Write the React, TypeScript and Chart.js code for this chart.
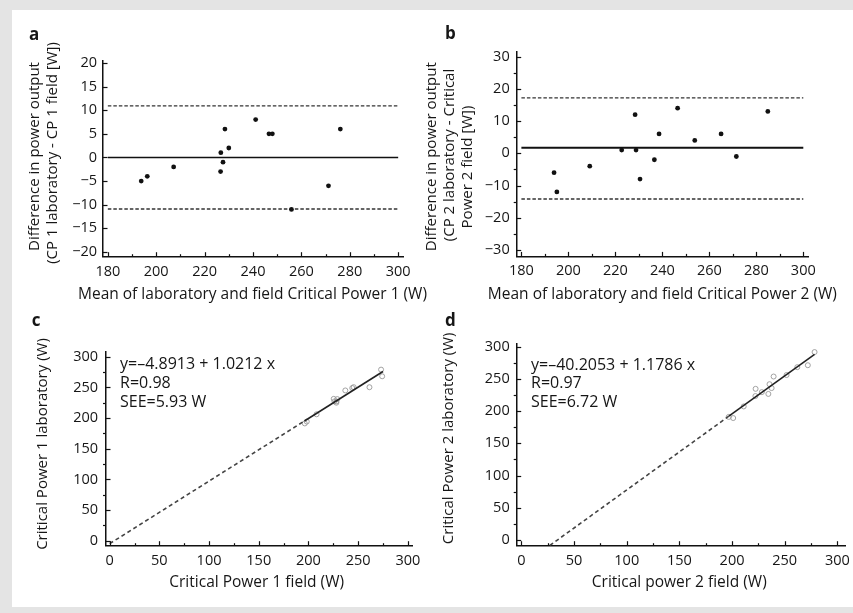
import React, { useEffect, useRef } from 'react';
import { Chart, registerables } from 'chart.js';

Chart.register(...registerables);

const FONT = '"Open Sans", "DejaVu Sans", sans-serif';

// ---------- Panel a: Bland-Altman CP1 ----------
const aMean = [193.8, 196.3, 207.2, 226.7, 227.6, 226.6, 228.4, 230.0, 241.1, 246.6, 248.0, 255.9, 271.2, 276.1];
const aDiff = [-5, -4, -2, 1, -1, -3, 6, 2, 8, 5, 5, -11, -6, 6];
const aBias = 0;
const aUpper = 10.9;
const aLower = -10.9;
const aXTicks = [180, 200, 220, 240, 260, 280, 300];
const aXMinor = [190, 210, 230, 250, 270, 290];
const aYTicks = [-20, -15, -10, -5, 0, 5, 10, 15, 20];
const aXTitle = 'Mean of laboratory and field Critical Power 1 (W)';
const aYTitle = ['Difference in power output', '(CP 1 laboratory - CP 1 field [W])'];

// ---------- Panel b: Bland-Altman CP2 ----------
const bMean = [193.9, 195.1, 209.1, 222.7, 228.4, 228.8, 230.5, 236.6, 238.6, 246.5, 253.8, 265.0, 271.5, 284.9];
const bDiff = [-6, -12, -4, 1, 12, 1, -8, -2, 6, 14, 4, 6, -1, 13];
const bBias = 1.7;
const bUpper = 17.2;
const bLower = -14.2;
const bXTicks = [180, 200, 220, 240, 260, 280, 300];
const bXMinor = [190, 210, 230, 250, 270, 290];
const bYTicks = [-30, -20, -10, 0, 10, 20, 30];
const bYMinor = [-25, -15, -5, 5, 15, 25];
const bXTitle = 'Mean of laboratory and field Critical Power 2 (W)';
const bYTitle = ['Difference in power output', '(CP 2 laboratory - Critical', 'Power 2 field [W])'];

// ---------- Panel c: CP1 field vs laboratory ----------
const cField = [196.3, 198.3, 208.2, 226.2, 228.1, 228.1, 225.4, 229.0, 237.1, 244.1, 245.5, 261.4, 274.2, 273.1];
const cLab = [191.3, 194.3, 206.2, 227.2, 227.1, 225.1, 231.4, 231.0, 245.1, 249.1, 250.5, 250.4, 268.2, 279.1];
const cIntercept = -4.8913;
const cSlope = 1.0212;
const cDashX = [0, 196];
const cSolidX = [196, 275];
const cNotes = ['y=\u20134.8913 + 1.0212 x', 'R=0.98', 'SEE=5.93 W'];
const cXTitle = 'Critical Power 1 field (W)';
const cYTitle = ['Critical Power 1 laboratory (W)'];

// ---------- Panel d: CP2 field vs laboratory ----------
const dField = [196.9, 201.1, 211.1, 222.2, 222.4, 228.3, 234.5, 237.6, 235.6, 239.5, 251.8, 262.0, 272.0, 278.4];
const dLab = [190.9, 189.1, 207.1, 223.2, 234.4, 229.3, 226.5, 235.6, 241.6, 253.5, 255.8, 268.0, 271.0, 291.4];
const dIntercept = -40.2053;
const dSlope = 1.1786;
const dDashX = [0, 197];
const dSolidX = [197, 278.4];
const dNotes = ['y=\u201340.2053 + 1.1786 x', 'R=0.97', 'SEE=6.72 W'];
const dXTitle = 'Critical power 2 field (W)';
const dYTitle = ['Critical Power 2 laboratory (W)'];

const cdTicks = [0, 50, 100, 150, 200, 250, 300];
const cdMinor = [25, 75, 125, 175, 225, 275];

const TXT = '#161616';
const XTITLE_SIZE = 15.5;
const YTITLE_SIZE = 15;

const fmt = (v: any) => {
  const n = Number(v);
  return n < 0 ? '\u2212' + Math.abs(n) : String(n);
};

const decorPlugin = {
  id: 'decor',
  afterDraw(chart: any, _a: any, o: any) {
    const ctx = chart.ctx;
    const xs = chart.scales.x;
    const ys = chart.scales.y;
    const { left, right, top, bottom } = chart.chartArea;
    ctx.save();
    ctx.strokeStyle = '#111';
    ctx.lineWidth = 1.2;
    const seg = (x1: number, y1: number, x2: number, y2: number) => {
      ctx.beginPath();
      ctx.moveTo(x1, y1);
      ctx.lineTo(x2, y2);
      ctx.stroke();
    };
    (o.xMajor || []).forEach((v: number) => {
      const p = Math.round(xs.getPixelForValue(v)) + 0.5;
      seg(p, bottom, p, bottom - 4.5);
    });
    (o.xMinor || []).forEach((v: number) => {
      const p = Math.round(xs.getPixelForValue(v)) + 0.5;
      seg(p, bottom, p, bottom - 2.5);
    });
    (o.yMajor || []).forEach((v: number) => {
      const p = Math.round(ys.getPixelForValue(v)) + 0.5;
      seg(left, p, left + 4.5, p);
    });
    (o.yMinor || []).forEach((v: number) => {
      const p = Math.round(ys.getPixelForValue(v)) + 0.5;
      seg(left, p, left - 3, p);
    });
    ctx.fillStyle = TXT;
    // notes inside the plot
    if (o.notes) {
      ctx.font = `16px ${FONT}`;
      ctx.textBaseline = 'middle';
      ctx.textAlign = 'left';
      o.notes.forEach((t: string, i: number) => {
        ctx.fillText(t, left + o.noteDx, top + o.noteDy + i * o.noteStep);
      });
    }
    // axis titles
    ctx.textBaseline = 'middle';
    ctx.textAlign = 'center';
    ctx.font = `${XTITLE_SIZE}px ${FONT}`;
    ctx.fillText(o.xTitle, (left + right) / 2 + o.xTitleDx, o.xTitleY);
    ctx.font = `${YTITLE_SIZE}px ${FONT}`;
    o.yTitle.forEach((t: string, i: number) => {
      ctx.save();
      ctx.translate(o.yTitleX[i], o.yTitleY[i]);
      ctx.rotate(-Math.PI / 2);
      ctx.fillText(t, 0, 0);
      ctx.restore();
    });
    // panel letter
    ctx.font = `bold 17px ${FONT}`;
    ctx.textBaseline = 'alphabetic';
    ctx.textAlign = 'left';
    ctx.fillText(o.letter, o.letterX, o.letterY);
    ctx.restore();
  },
};

function xScale(min: number, max: number, ticks: number[], height: number) {
  return {
    type: 'linear',
    min,
    max,
    afterBuildTicks: (s: any) => {
      s.ticks = ticks.map((v) => ({ value: v }));
    },
    afterFit: (s: any) => {
      s.height = height;
    },
    grid: { display: false, drawTicks: false },
    border: { display: true, color: '#111', width: 1.5 },
    ticks: { padding: 6, color: TXT, font: { family: FONT, size: 14.5 }, autoSkip: false, maxRotation: 0, callback: fmt },
    title: { display: false },
  };
}

function yScale(min: number, max: number, ticks: number[], width: number, pad: number) {
  return {
    type: 'linear',
    min,
    max,
    afterBuildTicks: (s: any) => {
      s.ticks = ticks.map((v) => ({ value: v }));
    },
    afterFit: (s: any) => {
      s.width = width;
    },
    grid: { display: false, drawTicks: false },
    border: { display: true, color: '#111', width: 1.5 },
    ticks: { padding: pad, color: TXT, font: { family: FONT, size: 14.5 }, autoSkip: false, callback: fmt },
    title: { display: false },
  };
}

const pts = (xs: number[], ys: number[]) => xs.map((x, i) => ({ x, y: ys[i] }));
const hline = (x0: number, x1: number, y: number) => [
  { x: x0, y },
  { x: x1, y },
];
const fitLine = (xs: number[], a: number, b: number) => xs.map((x) => ({ x, y: a + b * x }));

function baDatasets(mean: number[], diff: number[], bias: number, up: number, lo: number, biasWidth: number) {
  return [
    { data: pts(mean, diff), pointRadius: 2.4, pointBackgroundColor: '#111', pointBorderColor: '#111', pointBorderWidth: 0, showLine: false },
    { data: hline(180, 300, bias), showLine: true, pointRadius: 0, borderColor: '#111', borderWidth: biasWidth },
    { data: hline(180, 300, up), showLine: true, pointRadius: 0, borderColor: '#333', borderWidth: 1.4, borderDash: [3.5, 2] },
    { data: hline(180, 300, lo), showLine: true, pointRadius: 0, borderColor: '#333', borderWidth: 1.4, borderDash: [3.5, 2] },
  ];
}

function regDatasets(field: number[], lab: number[], a: number, b: number, dashX: number[], solidX: number[]) {
  return [
    { data: fitLine(dashX, a, b), showLine: true, pointRadius: 0, borderColor: '#444', borderWidth: 1.6, borderDash: [4, 3] },
    { data: fitLine(solidX, a, b), showLine: true, pointRadius: 0, borderColor: '#222', borderWidth: 1.6 },
    { data: pts(field, lab), showLine: false, pointRadius: 2.5, pointBackgroundColor: 'rgba(255,255,255,0)', pointBorderColor: '#999', pointBorderWidth: 0.9 },
  ];
}

type Spec = { left: number; top: number; width: number; height: number; config: any };

const specs: Spec[] = [
  {
    left: 12,
    top: 10,
    width: 428,
    height: 298,
    config: {
      padding: { left: 10, right: 37, top: 51, bottom: 2 },
      datasets: baDatasets(aMean, aDiff, aBias, aUpper, aLower, 1.5),
      x: xScale(178, 302, aXTicks, 49.3),
      y: yScale(-21, 20.4, aYTicks, 81, 6),
      decor: {
        xMajor: aXTicks, xMinor: aXMinor, yMajor: aYTicks, yMinor: [],
        xTitle: aXTitle, xTitleDx: -0.5, xTitleY: 285,
        yTitle: aYTitle, yTitleX: [23, 41], yTitleY: [146.5, 143],
        letter: 'a', letterX: 17, letterY: 30,
      },
    },
  },
  {
    left: 422,
    top: 10,
    width: 440,
    height: 298,
    config: {
      padding: { left: 0, right: 54, top: 41.8, bottom: 2 },
      datasets: baDatasets(bMean, bDiff, bBias, bUpper, bLower, 2),
      x: xScale(178, 302, bXTicks, 49.6),
      y: yScale(-32, 31.5, bYTicks, 94.7, 7),
      decor: {
        xMajor: bXTicks, xMinor: bXMinor, yMajor: bYTicks, yMinor: bYMinor,
        xTitle: bXTitle, xTitleDx: 0, xTitleY: 285,
        yTitle: bYTitle, yTitleX: [9.7, 28, 46], yTitleY: [146.7, 145, 157],
        letter: 'b', letterX: 23, letterY: 29.3,
      },
    },
  },
  {
    left: 12,
    top: 308,
    width: 428,
    height: 299,
    config: {
      padding: { left: 18, right: 27.7, top: 43.9, bottom: 13 },
      datasets: regDatasets(cField, cLab, cIntercept, cSlope, cDashX, cSolidX),
      x: xScale(-3.7, 304.5, cdTicks, 48.3),
      y: yScale(-8.2, 308, cdTicks, 76, 8),
      decor: {
        xMajor: cdTicks, xMinor: cdMinor, yMajor: cdTicks, yMinor: cdMinor,
        notes: cNotes, noteDx: 14, noteDy: 13, noteStep: 19,
        xTitle: cXTitle, xTitleDx: -2.5, xTitleY: 275,
        yTitle: cYTitle, yTitleX: [31], yTitleY: [136],
        letter: 'c', letterX: 19.7, letterY: 18,
      },
    },
  },
  {
    left: 422,
    top: 308,
    width: 440,
    height: 299,
    config: {
      padding: { left: 14, right: 17, top: 35.3, bottom: 13 },
      datasets: regDatasets(dField, dLab, dIntercept, dSlope, dDashX, dSolidX),
      x: xScale(-4.5, 307.3, cdTicks, 48.3),
      y: yScale(-8.8, 305, cdTicks, 80.7, 7),
      decor: {
        xMajor: cdTicks, xMinor: cdMinor, yMajor: cdTicks, yMinor: cdMinor,
        notes: dNotes, noteDx: 14.3, noteDy: 21.7, noteStep: 18.5,
        xTitle: dXTitle, xTitleDx: -1.6, xTitleY: 275,
        yTitle: dYTitle, yTitleX: [27], yTitleY: [130.3],
        letter: 'd', letterX: 23, letterY: 18,
      },
    },
  },
];

function Panel({ spec }: { spec: Spec }) {
  const ref = useRef<HTMLCanvasElement | null>(null);
  useEffect(() => {
    if (!ref.current) return;
    const c = spec.config;
    const chart = new Chart(ref.current, {
      type: 'scatter',
      data: { datasets: c.datasets },
      plugins: [decorPlugin as any],
      options: {
        animation: false,
        responsive: false,
        devicePixelRatio: 1,
        layout: { padding: c.padding },
        plugins: {
          legend: { display: false },
          tooltip: { enabled: false },
          decor: c.decor,
        } as any,
        scales: { x: c.x, y: c.y } as any,
      },
    } as any);
    return () => chart.destroy();
  }, [spec]);
  return (
    <canvas
      ref={ref}
      width={spec.width}
      height={spec.height}
      style={{ position: 'absolute', left: spec.left, top: spec.top, width: spec.width, height: spec.height }}
    />
  );
}

export default function App() {
  return (
    <div
      style={{
        position: 'absolute',
        left: 0,
        top: 0,
        width: 853,
        height: 613,
        background: '#e4e4e4',
        overflow: 'hidden',
      }}
    >
      <div style={{ position: 'absolute', left: 12, top: 10, width: 841, height: 597, background: '#ffffff' }} />
      {specs.map((s, i) => (
        <Panel key={i} spec={s} />
      ))}
    </div>
  );
}
